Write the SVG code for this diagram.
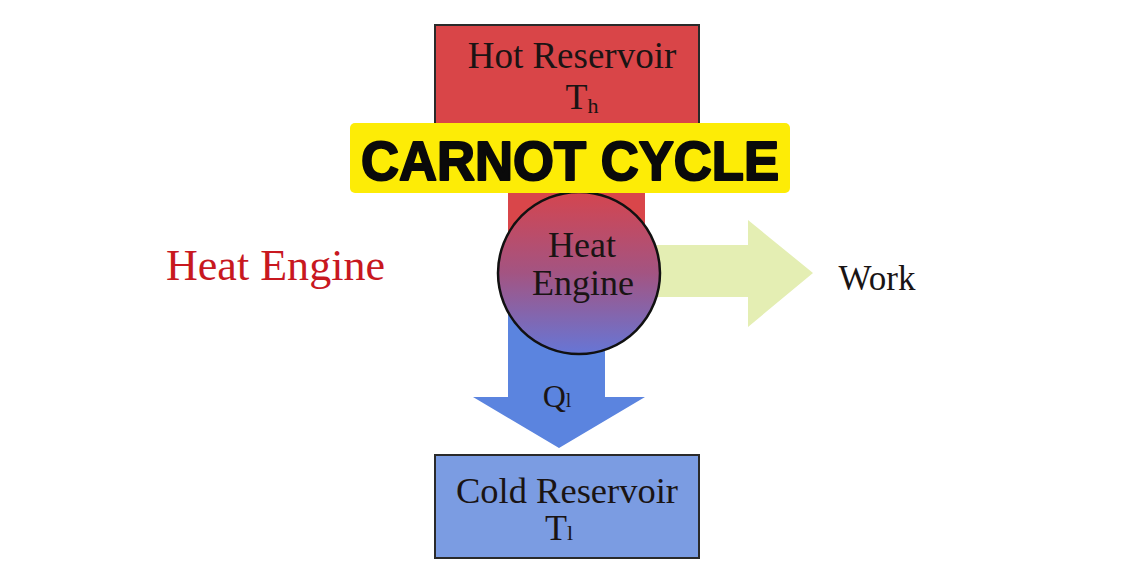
<svg xmlns="http://www.w3.org/2000/svg" width="1140" height="570" viewBox="0 0 1140 570">
<style>
.t{font-family:"Liberation Serif","Times New Roman",serif;fill:#1a1414;text-anchor:middle}
.box{stroke:#2a2a2a;stroke-width:2}
</style>
<defs>
<linearGradient id="eng" x1="0" y1="0" x2="0" y2="1">
<stop offset="0" stop-color="#d4454f"/>
<stop offset="0.5" stop-color="#a35482"/>
<stop offset="1" stop-color="#6676d6"/>
</linearGradient>
</defs>
<rect width="1140" height="570" fill="#ffffff"/>
<g id="connectors">
<rect x="508" y="150" width="137" height="125" fill="#d9464a"/>
<path d="M508,300 H605 V397 H645 L559,448 L473,397 H508 Z" fill="#5b84df"/>
<path d="M630,245 H748 V220 L813,273 L748,327 V297 H630 Z" fill="#e4eeb3"/>
<text class="t" x="557" y="407" font-size="32">Q<tspan font-size="20">l</tspan></text>
</g>
<g id="hot">
<rect class="box" x="435" y="25" width="264" height="165" fill="#d94548"/>
<text class="t" x="572" y="68" font-size="37">Hot Reservoir</text>
<text class="t" x="582" y="109" font-size="36">T<tspan font-size="22" dy="4">h</tspan></text>
</g>
<g id="engine">
<circle cx="579" cy="273" r="81" fill="url(#eng)" stroke="#111" stroke-width="2.5"/>
<text class="t" x="582" y="257" font-size="36">Heat</text>
<text class="t" x="583" y="295" font-size="36">Engine</text>
</g>
<g id="cold">
<rect class="box" x="435" y="455" width="264" height="103" fill="#7b9ce2"/>
<text class="t" x="567" y="503" font-size="36.5">Cold Reservoir</text>
<text class="t" x="559" y="540" font-size="36">T<tspan font-size="22">l</tspan></text>
</g>
<g id="work">
<text class="t" x="877" y="290" font-size="35">Work</text>
</g>
<g id="title-left">
<text x="166" y="280" font-family="'Liberation Serif','Times New Roman',serif" font-size="44" fill="#c8181f" textLength="219" lengthAdjust="spacingAndGlyphs">Heat Engine</text>
</g>
<g id="banner">
<rect x="350" y="123" width="440" height="70" rx="5" fill="#fdec06"/>
<text x="570" y="180" font-family="'Liberation Sans',Arial,sans-serif" font-weight="bold" font-size="55" fill="#0a0a0a" stroke="#0a0a0a" stroke-width="2" stroke-linejoin="round" text-anchor="middle" textLength="418" lengthAdjust="spacingAndGlyphs">CARNOT CYCLE</text>
</g>
</svg>
